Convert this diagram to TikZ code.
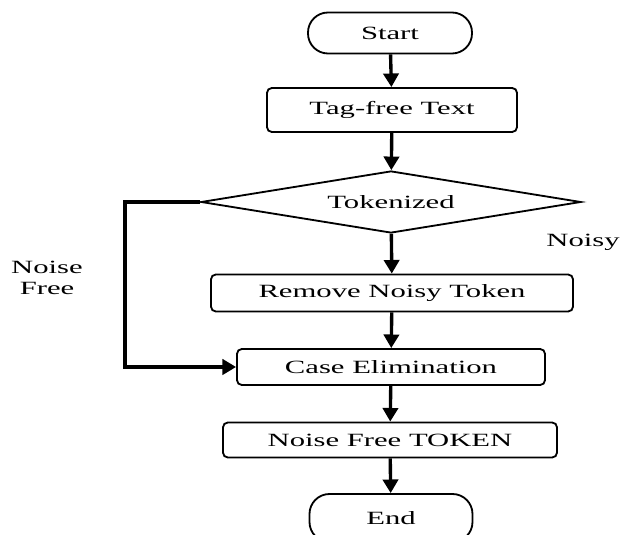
\documentclass[tikz,border=0pt]{standalone}
\usepackage{fontspec}
\setmainfont{Liberation Serif}[FakeStretch=1.64]
\usetikzlibrary{shapes.geometric,arrows.meta}

\begin{document}
\begin{tikzpicture}[font=\fontsize{13.3}{15}\selectfont,
  box/.style={draw, line width=1.3pt, rectangle, rounded corners=0.12cm},
  term/.style={draw, line width=1.3pt, rectangle, rounded corners=0.5cm},
  flow/.style={-{Triangle[width=0.38cm,length=0.34cm]}, line width=2.4pt}]
\useasboundingbox (0,0) rectangle (15.525,-13.375);

% Start
\node[term, minimum width=4.1cm, minimum height=1.025cm] (start) at (9.75,-0.825) {Start};

% Tag-free text
\node[box, minimum width=6.25cm, minimum height=1.1cm] (tag) at (9.8,-2.75) {Tag-free Text};

% Tokenized decision
\node[draw, line width=1.3pt, diamond, aspect=6, inner sep=0pt, minimum width=9.5cm, minimum height=1.55cm] (tok) at (9.775,-5.05) {Tokenized};
\node (noisy) at (14.575,-6.05) {Noisy};
\node[align=center] (nfree) at (1.175,-6.95) {Noise\\Free};

% Processing steps
\node[box, minimum width=9.05cm, minimum height=0.925cm] (remove) at (9.8,-7.325) {Remove Noisy Token};
\node[box, minimum width=7.7cm, minimum height=0.9cm] (case) at (9.775,-9.175) {Case Elimination};
\node[box, minimum width=8.35cm, minimum height=0.875cm] (token) at (9.75,-11.0) {Noise Free TOKEN};

% End
\node[term, minimum width=4.075cm, minimum height=1.2cm] (end) at (9.775,-12.95) {End};

% Arrows
\draw[flow] (start) -- (tag);
\draw[flow] (tag) -- (tok);
\draw[flow] (tok) -- (remove);
\draw[flow] (remove) -- (case);
\draw[flow] (case) -- (token);
\draw[flow] (token) -- (end);
\draw[flow] (tok.west) -- ++(-1.875,0) |- (case.west);
\end{tikzpicture}
\end{document}
